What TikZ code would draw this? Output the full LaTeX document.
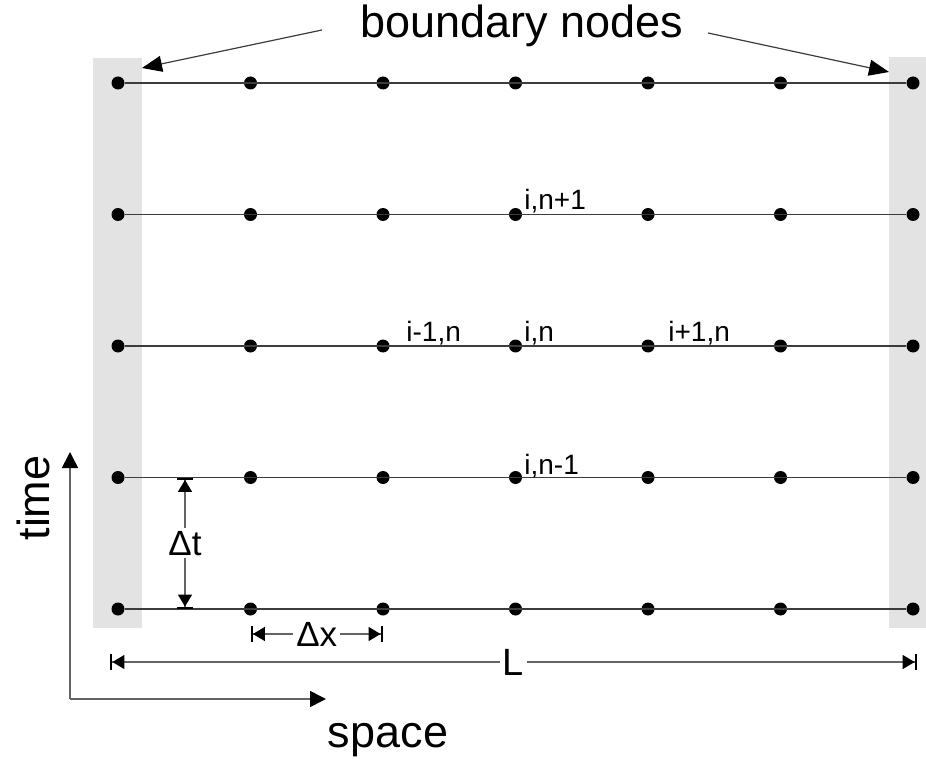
\documentclass[tikz,border=0pt]{standalone}
\usepackage{fontspec}
\setmainfont{Liberation Sans}
\usetikzlibrary{arrows.meta}
\definecolor{wallc}{RGB}{227,227,227}
\definecolor{linec}{RGB}{60,60,60}
\definecolor{dimc}{RGB}{100,100,100}
\tikzset{
  gridpt/.style   = {circle, fill=black, inner sep=0pt, minimum size=6.5pt},
  gridline/.style = {draw=linec, line width=0.7pt},
  wall/.style     = {fill=wallc, draw=none},
  pointer/.style  = {-{Triangle[length=10pt,width=8pt,color=black]}, line width=0.6pt, draw=linec},
  axis/.style     = {-{Triangle[length=8pt,width=8pt,color=black]}, line width=0.8pt, draw=dimc},
  dimline/.style  = {{Bar[width=8pt,line width=1.2pt,color=black]Triangle[length=6pt,width=7pt,sep=0pt,color=black]}-%
                     {Triangle[length=6pt,width=7pt,sep=0pt,color=black]Bar[width=8pt,line width=1.2pt,color=black]},
                     line width=0.7pt, draw=dimc},
  idx/.style      = {font=\fontsize{14}{16}\selectfont, inner sep=0pt},
  big/.style      = {font=\fontsize{22.5}{26}\selectfont, inner sep=0pt},
  dimlbl/.style   = {font=\fontsize{17.5}{20}\selectfont, fill=white, inner sep=1.5pt},
}

\begin{document}
\begin{tikzpicture}[x=0.5pt, y=-0.5pt]
\useasboundingbox (0,0) rectangle (926,759);

% boundary walls
\fill[wall] (93,58) rectangle (142,628);
\fill[wall] (889,57) rectangle (926,628);

% grid points and time levels
\foreach \i in {0,...,6}
  \foreach \j in {0,...,4}
    \node[gridpt] (p-\i-\j) at ({118+132.5*\i},{83+131.5*\j}) {};
\foreach \j in {0,...,4}
  \draw[gridline] (p-0-\j) -- (p-6-\j);

% stencil labels
\node[idx, anchor=base west] (l-up)  at (524,210) {i,n+1};
\node[idx, anchor=base west] (l-lt)  at (406,342) {i-1,n};
\node[idx, anchor=base west] (l-mid) at (524,342) {i,n};
\node[idx, anchor=base west] (l-rt)  at (668,342) {i+1,n};
\node[idx, anchor=base west] (l-dn)  at (524,474) {i,n-1};

% boundary nodes
\node[big, anchor=base] (bn) at (522,38) {boundary nodes};
\coordinate (bn-l) at (322,30);
\coordinate (bn-r) at (708,33);
\coordinate (wall-l) at (142,68);
\coordinate (wall-r) at (889,72);
\draw[pointer] (bn-l) -- (wall-l);
\draw[pointer] (bn-r) -- (wall-r);

% dimensions
\coordinate (dt-a) at (185,477.5);
\coordinate (dt-b) at (185,609);
\draw[dimline] (dt-a) -- (dt-b) node[dimlbl, midway] (dt) {Δt};
\coordinate (dx-a) at (250.5,634);
\coordinate (dx-b) at (383,634);
\draw[dimline] (dx-a) -- (dx-b) node[dimlbl, midway] (dx) {Δx};
\coordinate (len-a) at (110,662);
\coordinate (len-b) at (917,662);
\draw[dimline] (len-a) -- (len-b)
  node[dimlbl, midway, font=\fontsize{19}{22}\selectfont] (len) {L};

% axes
\coordinate (origin) at (70,699);
\coordinate (t-end) at (70,452);
\coordinate (x-end) at (326,699);
\draw[axis] (origin) -- (t-end);
\draw[axis] (origin) -- (x-end);
\node[big, rotate=90] (time) at (33,498) {time};
\node[big, anchor=base] (space) at (388,747) {space};

\end{tikzpicture}
\end{document}
